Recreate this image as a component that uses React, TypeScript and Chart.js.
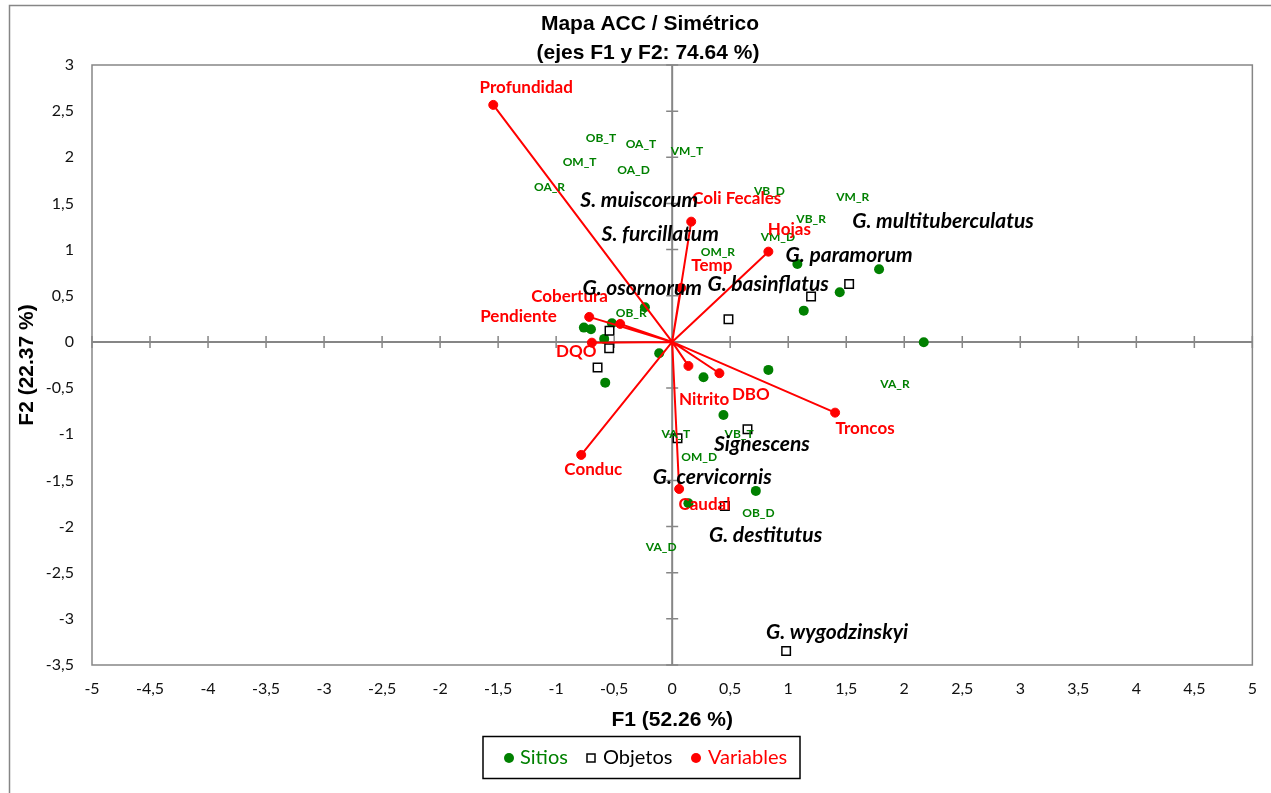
import React, { useEffect, useRef } from "react";
import { Chart, registerables } from "chart.js";

Chart.register(...registerables);

const W = 1271;
const H = 793;

// Sitios (F1, F2)
const siteX = [1.079, 1.783, 1.444, 1.134, 2.168, -0.235, -0.761, -0.7, -0.519, -0.586, -0.112, -0.577, 0.27, 0.829, 0.442, 0.721, 0.14];
const siteY = [0.845, 0.788, 0.538, 0.339, -0.003, 0.376, 0.155, 0.138, 0.203, 0.033, -0.122, -0.441, -0.382, -0.303, -0.791, -1.614, -1.748];

// Site label names and their anchors (F1, F2)
const siteNames = ["OB_T", "OA_T", "OM_T", "OA_D", "VM_T", "OA_R", "VB_D", "VM_R", "VB_R", "VM_D", "OM_R", "OB_R", "VA_R", "VB_T", "VA_T", "OM_D", "OB_D", "VA_D"];
const siteLabelX = [-0.614, -0.269, -0.798, -0.333, 0.127, -1.057, 0.838, 1.556, 1.197, 0.911, 0.394, -0.353, 1.92, 0.577, 0.032, 0.233, 0.743, -0.095];
const siteLabelY = [2.207, 2.145, 1.947, 1.856, 2.07, 1.672, 1.636, 1.574, 1.332, 1.13, 0.972, 0.317, -0.459, -0.999, -1.0, -1.253, -1.856, -2.218];

// Objetos (F1, F2)
const objX = [0.485, 1.197, 1.525, -0.54, -0.543, -0.643, 0.649, 0.046, 0.454, 0.982];
const objY = [0.246, 0.491, 0.628, 0.122, -0.068, -0.278, -0.946, -1.043, -1.777, -3.348];

// Object names and their anchors (F1, F2)
const objNames = ["S. muiscorum", "S. furcillatum", "G. multituberculatus", "G. paramorum", "G. basinflatus", "G. osornorum", "Signescens", "G. cervicornis", "G. destitutus", "G. wygodzinskyi"];
const objLabelX = [-0.284, -0.103, 2.334, 1.525, 0.827, -0.258, 0.773, 0.345, 0.805, 1.421];
const objLabelY = [1.538, 1.17, 1.311, 0.943, 0.623, 0.585, -1.105, -1.466, -2.091, -3.142];

// Variables (F1, F2)
const varNames = ["Profundidad", "Coli Fecales", "Hojas", "Temp", "Cobertura", "Pendiente", "DQO", "Nitrito", "DBO", "Troncos", "Conduc", "Caudal"];
const varX = [-1.542, 0.164, 0.829, 0.078, -0.715, -0.448, -0.692, 0.14, 0.407, 1.404, -0.784, 0.06];
const varY = [2.568, 1.303, 0.978, 0.585, 0.271, 0.195, -0.008, -0.26, -0.339, -0.766, -1.224, -1.593];
const varLabelX = [-1.258, 0.556, 1.01, 0.342, -0.885, -1.324, -0.827, 0.276, 0.678, 1.662, -0.68, 0.278];
const varLabelY = [2.759, 1.557, 1.221, 0.827, 0.491, 0.274, -0.105, -0.621, -0.567, -0.935, -1.387, -1.758];

const GREEN = "#008000";
const RED = "#FF0000";
const GRAY = "#868686";
const SANS = "Lato, 'Open Sans', sans-serif";
const ARIAL = "'Liberation Sans', Arial, sans-serif";

const points = (xs: number[], ys: number[]) => xs.map((x, i) => ({ x, y: ys[i] }));

const vectorData: { x: number | null; y: number | null }[] = [];
varX.forEach((x, i) => {
  vectorData.push({ x: 0, y: 0 }, { x, y: varY[i] }, { x: null, y: null });
});

const fmt = (v: number) => String(Math.round(v * 10) / 10).replace(".", ",");

const decor = {
  id: "decor",
  beforeDatasetsDraw(chart: any) {
    const { ctx, chartArea: a, scales } = chart;
    const sx = scales.x;
    const sy = scales.y;
    ctx.save();
    ctx.strokeStyle = GRAY;
    ctx.lineWidth = 1.5;
    ctx.strokeRect(a.left, a.top, a.right - a.left, a.bottom - a.top);
    const x0 = sx.getPixelForValue(0);
    const y0 = sy.getPixelForValue(0);
    ctx.lineWidth = 2;
    ctx.beginPath();
    ctx.moveTo(a.left, y0);
    ctx.lineTo(a.right, y0);
    ctx.moveTo(x0, a.top);
    ctx.lineTo(x0, a.bottom);
    ctx.stroke();
    ctx.lineWidth = 1.5;
    ctx.beginPath();
    sx.ticks.forEach((t: any) => {
      const px = sx.getPixelForValue(t.value);
      ctx.moveTo(px, y0 - 6);
      ctx.lineTo(px, y0 + 6);
    });
    sy.ticks.forEach((t: any) => {
      const py = sy.getPixelForValue(t.value);
      ctx.moveTo(x0 - 6, py);
      ctx.lineTo(x0 + 6, py);
    });
    ctx.stroke();
    ctx.restore();
  },
  afterDatasetsDraw(chart: any) {
    const { ctx, scales } = chart;
    const sx = scales.x;
    const sy = scales.y;
    ctx.save();
    ctx.textAlign = "center";
    ctx.textBaseline = "middle";
    ctx.fillStyle = GREEN;
    ctx.font = `bold 12px ${SANS}`;
    siteNames.forEach((n, i) => ctx.fillText(n, sx.getPixelForValue(siteLabelX[i]), sy.getPixelForValue(siteLabelY[i])));
    ctx.fillStyle = RED;
    ctx.font = `bold 17px ${SANS}`;
    varNames.forEach((n, i) => ctx.fillText(n, sx.getPixelForValue(varLabelX[i]), sy.getPixelForValue(varLabelY[i])));
    ctx.fillStyle = "#000";
    ctx.font = `italic bold 21px ${SANS}`;
    objNames.forEach((n, i) => ctx.fillText(n, sx.getPixelForValue(objLabelX[i]), sy.getPixelForValue(objLabelY[i])));
    ctx.restore();
  },
  afterDraw(chart: any) {
    const { ctx, chartArea: a } = chart;
    ctx.save();
    // outer frame
    ctx.strokeStyle = GRAY;
    ctx.lineWidth = 1.5;
    ctx.strokeRect(9.5, 5.5, W + 40, H + 40);
    // title
    ctx.fillStyle = "#000";
    ctx.textAlign = "center";
    ctx.textBaseline = "middle";
    ctx.font = `bold 21px ${ARIAL}`;
    ctx.fillText("Mapa ACC / Simétrico", 650, 24);
    ctx.fillText("(ejes F1 y F2: 74.64 %)", 648, 53);
    // axis titles
    const cx = (a.left + a.right) / 2;
    const cy = (a.top + a.bottom) / 2;
    ctx.font = `bold 21px ${ARIAL}`;
    ctx.fillText("F1 (52.26 %)", cx, 720);
    ctx.save();
    ctx.translate(27, cy);
    ctx.rotate(-Math.PI / 2);
    ctx.fillText("F2 (22.37 %)", 0, 0);
    ctx.restore();
    // legend
    ctx.strokeStyle = "#000";
    ctx.lineWidth = 1.5;
    ctx.strokeRect(483, 736.5, 317, 42);
    const ly = 758;
    ctx.font = `20px ${SANS}`;
    ctx.textAlign = "left";
    ctx.fillStyle = GREEN;
    ctx.beginPath();
    ctx.arc(509, ly, 5, 0, Math.PI * 2);
    ctx.fill();
    ctx.fillText("Sitios", 520, ly);
    ctx.fillStyle = "#fff";
    ctx.fillRect(587, ly - 4, 8, 8);
    ctx.strokeRect(587, ly - 4, 8, 8);
    ctx.fillStyle = "#000";
    ctx.fillText("Objetos", 603, ly);
    ctx.fillStyle = RED;
    ctx.beginPath();
    ctx.arc(696, ly, 5, 0, Math.PI * 2);
    ctx.fill();
    ctx.fillText("Variables", 708, ly);
    ctx.restore();
  },
};

export default function App() {
  const ref = useRef<HTMLCanvasElement>(null);
  useEffect(() => {
    if (!ref.current) return;
    const chart = new Chart(ref.current, {
      type: "scatter",
      data: {
        datasets: [
          {
            label: "Variables",
            data: points(varX, varY),
            pointRadius: 4.5,
            pointBorderWidth: 1,
            backgroundColor: RED,
            borderColor: RED,
            order: 1,
          },
          {
            label: "vectores",
            data: vectorData as any,
            showLine: true,
            spanGaps: false,
            pointRadius: 0,
            borderColor: RED,
            borderWidth: 2,
            order: 2,
          },
          {
            label: "Objetos",
            data: points(objX, objY),
            pointStyle: "rect",
            pointRadius: 6,
            pointBorderWidth: 1.5,
            backgroundColor: "#fff",
            borderColor: "#000",
            order: 3,
          },
          {
            label: "Sitios",
            data: points(siteX, siteY),
            pointRadius: 5,
            pointBorderWidth: 0,
            backgroundColor: GREEN,
            borderColor: GREEN,
            order: 4,
          },
        ],
      },
      options: {
        responsive: false,
        animation: false,
        events: [],
        layout: { padding: { top: 65, right: 18, left: 0, bottom: 0 } },
        plugins: {
          legend: { display: false },
          title: { display: false },
          tooltip: { enabled: false },
        },
        scales: {
          x: {
            type: "linear",
            min: -5,
            max: 5,
            grid: { display: false, drawTicks: false },
            border: { display: false },
            ticks: {
              stepSize: 0.5,
              autoSkip: false,
              maxRotation: 0,
              padding: 14,
              color: "#111",
              font: { family: SANS, size: 16 },
              callback: (v: any) => fmt(Number(v)),
            },
            afterFit: (s: any) => {
              s.height = 128;
            },
          },
          y: {
            type: "linear",
            min: -3.5,
            max: 3,
            grid: { display: false, drawTicks: false },
            border: { display: false },
            ticks: {
              stepSize: 0.5,
              autoSkip: false,
              padding: 18,
              color: "#111",
              font: { family: SANS, size: 16 },
              callback: (v: any) => fmt(Number(v)),
            },
            afterFit: (s: any) => {
              s.width = 92;
            },
          },
        },
      },
      plugins: [decor],
    });
    return () => chart.destroy();
  }, []);
  return (
    <div style={{ position: "fixed", left: 0, top: 0, width: W, height: H, background: "#fff" }}>
      <canvas ref={ref} width={W} height={H} style={{ display: "block", width: W, height: H }} />
    </div>
  );
}
